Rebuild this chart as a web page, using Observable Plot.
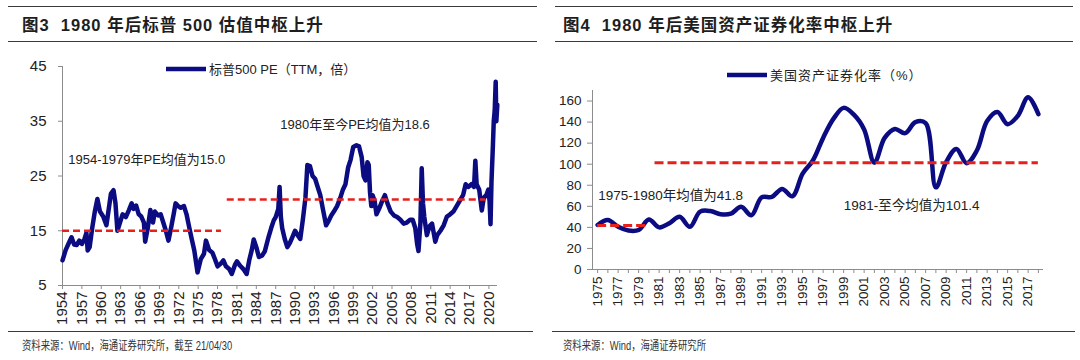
<!DOCTYPE html>
<html>
<head>
<meta charset="utf-8">
<script src="https://cdn.jsdelivr.net/npm/d3@7"></script>
<script src="https://cdn.jsdelivr.net/npm/@observablehq/plot@0.6"></script>
<style>
  html, body { margin: 0; padding: 0; background: #fff; }
  #root { position: relative; width: 1080px; height: 360px; background: #fff; overflow: hidden; }
  .rule { position: absolute; height: 0; border-top: 1.6px solid #3a3a3a; }
  .title { position: absolute; font-family: 'Liberation Sans', Arial, 'Noto Sans CJK SC', sans-serif; font-weight: bold; font-size: 16.5px; letter-spacing: 1px; color: #1e1e1e; white-space: pre; line-height: 20px; }
  .note { position: absolute; font-family: 'Liberation Sans', Arial, 'Noto Sans CJK SC', sans-serif; font-size: 12px; color: #333; white-space: pre; transform: scaleX(0.78); transform-origin: left center; line-height: 14px; }
  .panel { position: absolute; }
  .legend { position: absolute; display: flex; align-items: center; font-family: 'Liberation Sans', Arial, 'Noto Sans CJK SC', sans-serif; font-size: 13px; color: #222; white-space: pre; }
  .legend svg { display: block; margin-right: 3px; }
</style>
</head>
<body>
<div id="root">
  <div class="rule" style="left:8px;top:6px;width:529px"></div>
  <div class="title" style="left:22px;top:15px">图3  1980 年后标普 500 估值中枢上升</div>
  <div class="rule" style="left:8px;top:41px;width:529px"></div>
  <div class="panel" id="leftChart" style="left:0;top:45px"></div>
  <div class="legend" id="leftLegend" style="left:166px;top:59px"></div>
  <div class="rule" style="left:8px;top:331px;width:525px"></div>
  <div class="note" style="left:22px;top:339px">资料来源：Wind，海通证券研究所，截至 21/04/30</div>

  <div class="rule" style="left:555px;top:6px;width:518px"></div>
  <div class="title" style="left:563px;top:15px">图4  1980 年后美国资产证券化率中枢上升</div>
  <div class="rule" style="left:555px;top:41px;width:518px"></div>
  <div class="panel" id="rightChart" style="left:540px;top:80px"></div>
  <div class="legend" id="rightLegend" style="left:727px;top:65px;letter-spacing:1px"></div>
  <div class="rule" style="left:552px;top:331px;width:523px"></div>
  <div class="note" style="left:563px;top:339px">资料来源：Wind，海通证券研究所</div>
</div>
<script>
// ---------- Data: S&P 500 PE (TTM) ----------
const peSeriesName = "标普500 PE（TTM，倍）";
const peTimes = [
  1954.0,1954.5,1955.0,1955.4,1955.8,1956.2,1956.6,1957.0,1957.4,1957.7,1957.9,1958.2,1958.6,1959.0,1959.4,1959.8,
  1960.3,1960.8,1961.1,1961.5,1961.9,1962.2,1962.5,1962.9,1963.3,1963.8,1964.3,1964.7,1965.0,1965.4,1965.8,1966.2,
  1966.6,1966.8,1967.2,1967.6,1968.0,1968.3,1968.8,1969.2,1969.6,1970.0,1970.4,1970.8,1971.2,1971.5,1971.9,1972.3,
  1972.8,1973.2,1973.6,1974.0,1974.4,1974.9,1975.4,1975.9,1976.2,1976.7,1977.2,1977.6,1978.0,1978.5,1978.9,1979.3,
  1979.8,1980.2,1980.7,1981.0,1981.5,1982.0,1982.5,1982.9,1983.3,1983.6,1984.0,1984.4,1984.9,1985.3,1985.9,1986.3,
  1986.7,1987.0,1987.4,1987.6,1987.8,1988.0,1988.4,1988.8,1989.2,1989.6,1990.0,1990.4,1990.8,1991.2,1991.6,1991.9,
  1992.3,1992.7,1993.1,1993.5,1993.9,1994.3,1994.8,1995.2,1995.6,1996.0,1996.5,1997.0,1997.4,1997.8,1998.2,1998.6,
  1999.0,1999.5,1999.9,2000.3,2000.6,2000.9,2001.2,2001.4,2001.6,2001.8,2002.0,2002.3,2002.6,2003.0,2003.5,2003.9,
  2004.3,2004.8,2005.3,2005.8,2006.3,2006.8,2007.3,2007.8,2008.2,2008.6,2008.9,2009.1,2009.4,2009.6,2009.8,2010.0,
  2010.4,2010.8,2011.2,2011.7,2012.0,2012.5,2013.0,2013.5,2014.0,2014.5,2015.0,2015.5,2016.0,2016.4,2016.8,2017.3,
  2017.7,2017.9,2018.1,2018.5,2018.9,2019.2,2019.6,2019.9,2020.1,2020.25,2020.4,2020.6,2020.75,2020.9,2021.05,2021.15,2021.3
];
const peValues = [
  9.6,11.5,12.8,13.8,12.5,12.4,13.2,12.6,13.5,14.6,11.4,12.0,15.5,18.5,20.8,18.5,
  17.6,16.0,18.5,21.8,22.4,20.0,15.0,16.5,18.0,17.5,18.8,20.0,19.0,19.6,18.0,17.6,
  16.5,13.0,15.5,18.8,16.5,18.5,17.8,18.0,16.5,15.0,13.2,15.5,18.0,20.0,19.5,19.2,
  19.5,18.0,15.7,13.5,11.4,7.4,9.8,10.8,13.2,11.5,11.0,9.8,8.5,9.0,9.6,8.5,
  8.0,7.1,8.8,9.4,8.6,8.0,7.1,9.6,11.5,13.4,12.0,10.2,10.5,11.2,13.9,15.5,
  16.9,17.5,19.0,23.0,17.5,15.5,13.5,12.0,12.8,13.9,15.0,14.2,13.5,17.0,21.0,27.0,
  26.8,25.0,24.5,23.0,21.5,19.0,16.0,16.8,17.8,18.5,19.5,21.0,22.5,23.5,26.5,28.0,
  30.3,30.6,30.4,28.5,25.0,24.2,27.5,27.0,22.0,19.5,21.5,20.5,18.0,19.0,20.5,21.5,
  20.0,18.5,17.8,17.5,17.0,16.3,16.5,17.0,17.0,15.5,12.5,11.3,16.5,26.4,20.0,17.5,
  14.2,15.8,16.3,13.0,14.2,15.0,16.0,17.6,18.0,18.5,19.5,20.5,21.5,23.5,23.0,23.5,
  23.0,27.8,23.5,22.5,18.7,21.0,21.5,22.5,20.5,16.2,24.0,30.0,35.0,37.0,42.2,35.0,38.0
];
const peMeanStart = [1954, 1979.5];
const peMeanEnd = [1978.6, 2019.5];
const peMeanLevel = [15.0, 20.7];
const peMeanNotes = ["1954-1979年PE均值为15.0", "1980年至今PE均值为18.6"];
const peXTicks = [1954,1957,1960,1963,1966,1969,1972,1975,1978,1981,1984,1987,1990,1993,1996,1999,2002,2005,2008,2011,2014,2017,2020];
const peYTicks = [5, 15, 25, 35, 45];

// ---------- Data: US asset securitization ratio ----------
const secSeriesName = "美国资产证券化率（%）";
const secYears = [1975,1976,1977,1978,1979,1980,1981,1982,1983,1984,1985,1986,1987,1988,1989,1990,1991,1992,1993,1994,1995,1996,
  1997,1998,1999,2000,2001,2002,2003,2004,2005,2006,2007,2008,2009,2010,2011,2012,2013,2014,2015,2016,2017,2018];
const secValues = [42.3,47,40.5,37,37.5,47.5,40,44,50,40.5,55,55.5,52.5,53,59.5,51.5,68.5,69,76.5,69.5,91,103.5,
  125,143,153.5,147,133,101.5,125,133.5,129.5,140,139,78,102,114.5,101,113,141,149.5,138,146,163.5,147.5];
const secMeanStart = [1975, 1980.6];
const secMeanEnd = [1980, 2018];
const secMeanLevel = [41.8, 101.4];
const secMeanNotes = ["1975-1980年均值为41.8", "1981-至今均值为101.4"];
const secXLabels = ["1975","1977","1979","1981","1983","1985","1987","1989","1991","1993","1995","1997","1999","2001","2003","2005","2007","2009","2011","2013","2015","2017"];
const secYTicks = [0, 20, 40, 60, 80, 100, 120, 140, 160];

// ---------- Styling ----------
const FONT = "'Liberation Sans', Arial, 'Noto Sans CJK SC', sans-serif";
const NAVY = "#0b0b82";
const RED = "#e8201c";
const AXIS = "#8c8c8c";

function greyAxes(svg) {
  d3.select(svg).selectAll("g[aria-label*='axis'] line, g[aria-label*='axis'] path, g[aria-label*='tick'] line, g[aria-label*='tick'] path")
    .attr("stroke", AXIS);
  return svg;
}

function legend(el, name) {
  const s = d3.select(el);
  const svg = s.append("svg").attr("width", 40).attr("height", 10);
  svg.append("line").attr("x1", 0).attr("x2", 40).attr("y1", 5).attr("y2", 5)
    .attr("stroke", NAVY).attr("stroke-width", 4.5);
  s.append("span").text(name);
}

// ---------- Left chart ----------
const peData = peTimes.map((t, i) => ({t, v: peValues[i]}));
const peMeans = peMeanLevel.map((lv, i) => ({start: peMeanStart[i], end: peMeanEnd[i], level: lv}));

const left = Plot.plot({
  width: 540, height: 285,
  marginLeft: 62, marginRight: 43, marginTop: 21, marginBottom: 45,
  style: {fontFamily: FONT, fontSize: "15px", color: "#222", background: "transparent", overflow: "visible"},
  x: {domain: [1954, 2021.33], ticks: peXTicks, tickFormat: d => String(d), tickRotate: -90, tickSize: 4, tickPadding: 2, label: null},
  y: {domain: [5, 45], ticks: peYTicks, tickSize: 4, tickPadding: 12, label: null},
  marks: [
    Plot.ruleY([5], {stroke: AXIS}),
    Plot.ruleX([1954], {stroke: AXIS}),
    Plot.line(peData, {x: "t", y: "v", stroke: NAVY, strokeWidth: 4.5, strokeLinejoin: "round", strokeLinecap: "round"}),
    Plot.ruleY(peMeans, {y: "level", x1: "start", x2: "end", stroke: RED, strokeWidth: 2.5, strokeDasharray: "7,4"}),
    Plot.text([peMeanNotes[0]], {x: 1954.9, y: 28.0, text: d => d, textAnchor: "start", fontSize: 13, fill: "#222"}),
    Plot.text([peMeanNotes[1]], {x: 1987.7, y: 34.4, text: d => d, textAnchor: "start", fontSize: 13, fill: "#222"})
  ]
});
document.getElementById("leftChart").appendChild(greyAxes(left));
legend(document.getElementById("leftLegend"), peSeriesName);

// ---------- Right chart ----------
const secData = secYears.map((y, i) => ({year: y, v: secValues[i]}));
const secMeans = secMeanLevel.map((lv, i) => ({start: secMeanStart[i], end: secMeanEnd[i], level: lv}));

const right = Plot.plot({
  width: 540, height: 250,
  marginLeft: 52, marginRight: 37, marginTop: 10, marginBottom: 61,
  style: {fontFamily: FONT, fontSize: "13.5px", color: "#222", background: "transparent", overflow: "visible"},
  x: {domain: [1974.5, 2018.5], ticks: secYears, tickFormat: d => secXLabels.includes(String(d)) ? String(d) : "", tickRotate: -90, tickSize: 4, tickPadding: 3, label: null},
  y: {domain: [0, 170], ticks: secYTicks, tickSize: 5, tickPadding: 6, label: null},
  marks: [
    Plot.ruleY([0], {stroke: AXIS}),
    Plot.ruleX([1974.5], {stroke: AXIS}),
    Plot.line(secData, {x: "year", y: "v", stroke: NAVY, strokeWidth: 4.5, curve: "catmull-rom", strokeLinejoin: "round", strokeLinecap: "round"}),
    Plot.ruleY(secMeans, {y: "level", x1: "start", x2: "end", stroke: RED, strokeWidth: 3, strokeDasharray: "9,4"}),
    Plot.text([secMeanNotes[0]], {x: 1975.05, y: 70.5, text: d => d, textAnchor: "start", fontSize: 13.5, fill: "#222"}),
    Plot.text([secMeanNotes[1]], {x: 1999.0, y: 61, text: d => d, textAnchor: "start", fontSize: 13.5, fill: "#222"})
  ]
});
document.getElementById("rightChart").appendChild(greyAxes(right));
legend(document.getElementById("rightLegend"), secSeriesName);
</script>
</body>
</html>
